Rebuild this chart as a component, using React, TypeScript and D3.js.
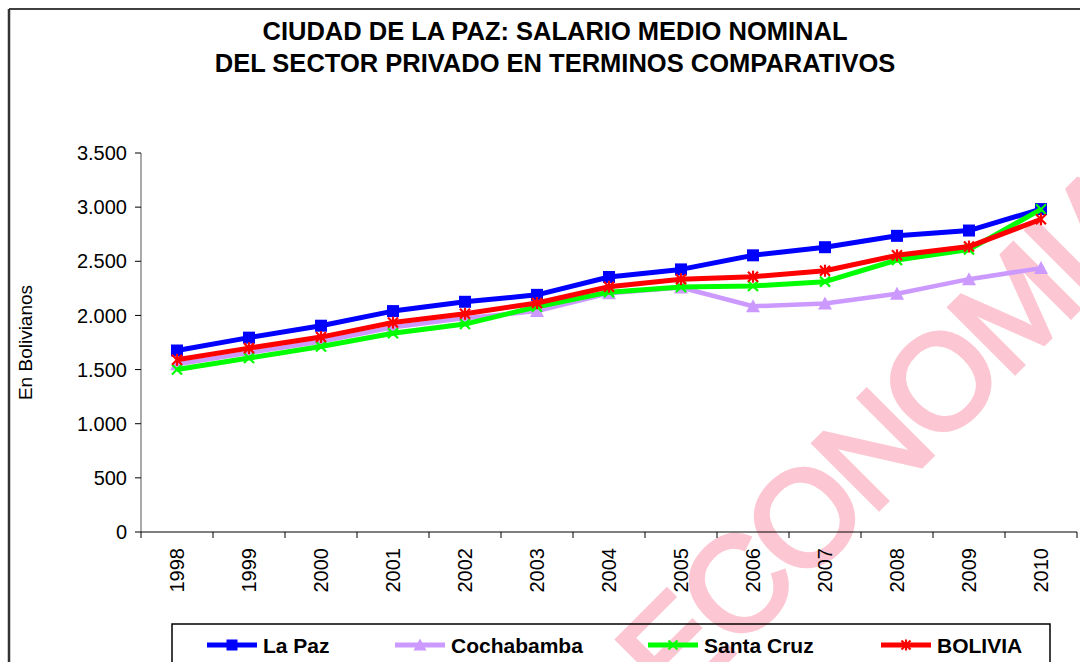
import React from 'react'
import * as d3 from 'd3'

const WIDTH = 1080
const HEIGHT = 662
const PLOT_LEFT = 141
const PLOT_RIGHT = 1077
const PLOT_TOP = 153
const PLOT_BOTTOM = 532
const FONT = 'Arial, "Liberation Sans", sans-serif'

const years = ['1998', '1999', '2000', '2001', '2002', '2003', '2004', '2005', '2006', '2007', '2008', '2009', '2010']
const yTicks = [0, 500, 1000, 1500, 2000, 2500, 3000, 3500]
const titleLines = ['CIUDAD DE LA PAZ: SALARIO MEDIO NOMINAL', 'DEL SECTOR PRIVADO EN TERMINOS COMPARATIVOS']

const laPaz = [1676, 1795, 1905, 2040, 2126, 2190, 2355, 2425, 2555, 2630, 2735, 2784, 2982]
const cochabamba = [1550, 1655, 1760, 1890, 1975, 2040, 2205, 2258, 2085, 2110, 2200, 2335, 2437]
const santaCruz = [1500, 1607, 1713, 1836, 1920, 2080, 2215, 2262, 2272, 2312, 2512, 2608, 2980]
const bolivia = [1590, 1698, 1800, 1934, 2015, 2115, 2265, 2335, 2358, 2413, 2555, 2636, 2888]

const series = [
  { name: 'La Paz', values: laPaz, colour: '#0000ff', marker: 'square', width: 5 },
  { name: 'Cochabamba', values: cochabamba, colour: '#cc99ff', marker: 'triangle', width: 4.5 },
  { name: 'Santa Cruz', values: santaCruz, colour: '#00ff00', marker: 'cross', width: 5 },
  { name: 'BOLIVIA', values: bolivia, colour: '#ff0000', marker: 'star', width: 5 },
]

const legendX = [207, 395, 648, 881]

function Marker({ type, x, y, colour, size = 12 }) {
  const h = size / 2
  if (type === 'square') {
    return <rect x={x - h} y={y - h} width={size} height={size} fill={colour} />
  }
  if (type === 'triangle') {
    const path = d3.path()
    path.moveTo(x, y - h - 1)
    path.lineTo(x + h + 1, y + h)
    path.lineTo(x - h - 1, y + h)
    path.closePath()
    return <path d={path.toString()} fill={colour} />
  }
  const k = h - 1
  return (
    <g stroke={colour} strokeWidth={2.2}>
      <line x1={x - k} y1={y - k} x2={x + k} y2={y + k} />
      <line x1={x - k} y1={y + k} x2={x + k} y2={y - k} />
      {type === 'star' && <line x1={x} y1={y - h} x2={x} y2={y + h} />}
    </g>
  )
}

export default function App() {
  const x = d3.scaleBand().domain(years).range([PLOT_LEFT, PLOT_RIGHT])
  const y = d3.scaleLinear().domain([0, 3500]).range([PLOT_BOTTOM, PLOT_TOP])
  const cx = (year) => x(year) + x.bandwidth() / 2

  const line = d3.line()
    .x((d, i) => cx(years[i]))
    .y(d => y(d))

  const bandEdges = years.map(yr => x(yr)).concat([PLOT_RIGHT])

  return (
    <svg width={WIDTH} height={HEIGHT} style={{ position: 'fixed', left: 0, top: 0, background: '#fff' }}
      fontFamily={FONT}>
      <rect x={0} y={0} width={WIDTH} height={HEIGHT} fill="#fff" />

      {/* watermark */}
      <text transform="translate(675,713) rotate(-45)" fontSize={135} letterSpacing={-5}
        fill="#fcc6d2" stroke="#fcc6d2" strokeWidth={4}>ECONOMIA</text>

      {/* outer chart border */}
      <line x1={9} y1={9} x2={WIDTH} y2={9} stroke="#000" strokeWidth={1.5} />
      <line x1={9} y1={9} x2={9} y2={HEIGHT} stroke="#333" strokeWidth={2.5} />

      {titleLines.map((t, i) => (
        <text key={t} x={555} y={40 + i * 32} textAnchor="middle" fontSize={25.5} fontWeight="bold">{t}</text>
      ))}

      <text transform={`translate(32,${(PLOT_TOP + PLOT_BOTTOM) / 2}) rotate(-90)`} textAnchor="middle"
        fontSize={19}>En Bolivianos</text>

      {/* y axis */}
      <line x1={PLOT_LEFT} y1={PLOT_TOP} x2={PLOT_LEFT} y2={PLOT_BOTTOM} stroke="#555" />
      {yTicks.map(t => (
        <g key={t}>
          <line x1={PLOT_LEFT - 6} x2={PLOT_LEFT} y1={y(t)} y2={y(t)} stroke="#000" />
          <text x={PLOT_LEFT - 14} y={y(t)} dy="0.36em" textAnchor="end" fontSize={20}>
            {d3.format(',')(t).replace(/,/g, '.')}
          </text>
        </g>
      ))}

      {/* x axis */}
      <line x1={PLOT_LEFT} y1={PLOT_BOTTOM} x2={PLOT_RIGHT} y2={PLOT_BOTTOM} stroke="#000" />
      {bandEdges.map((e, i) => (
        <line key={i} x1={e} x2={e} y1={PLOT_BOTTOM} y2={PLOT_BOTTOM + 6} stroke="#000" />
      ))}
      {years.map(yr => (
        <text key={yr} transform={`translate(${cx(yr)},${PLOT_BOTTOM + 16}) rotate(-90)`} dy="0.36em"
          textAnchor="end" fontSize={20}>{yr}</text>
      ))}

      {/* series */}
      {series.map(s => (
        <g key={s.name}>
          <path d={line(s.values)} fill="none" stroke={s.colour} strokeWidth={s.width} strokeLinejoin="round" />
          {s.values.map((v, i) => (
            <Marker key={i} type={s.marker} x={cx(years[i])} y={y(v)} colour={s.colour} />
          ))}
        </g>
      ))}

      {/* legend */}
      <rect x={172} y={624} width={878} height={60} fill="none" stroke="#000" strokeWidth={1.5} />
      {series.map((s, i) => (
        <g key={s.name}>
          <line x1={legendX[i]} x2={legendX[i] + 50} y1={645} y2={645} stroke={s.colour} strokeWidth={5} />
          <Marker type={s.marker} x={legendX[i] + 25} y={645} colour={s.colour} size={11} />
          <text x={legendX[i] + 56} y={645} dy="0.36em" fontSize={21} fontWeight="bold">{s.name}</text>
        </g>
      ))}
    </svg>
  )
}
